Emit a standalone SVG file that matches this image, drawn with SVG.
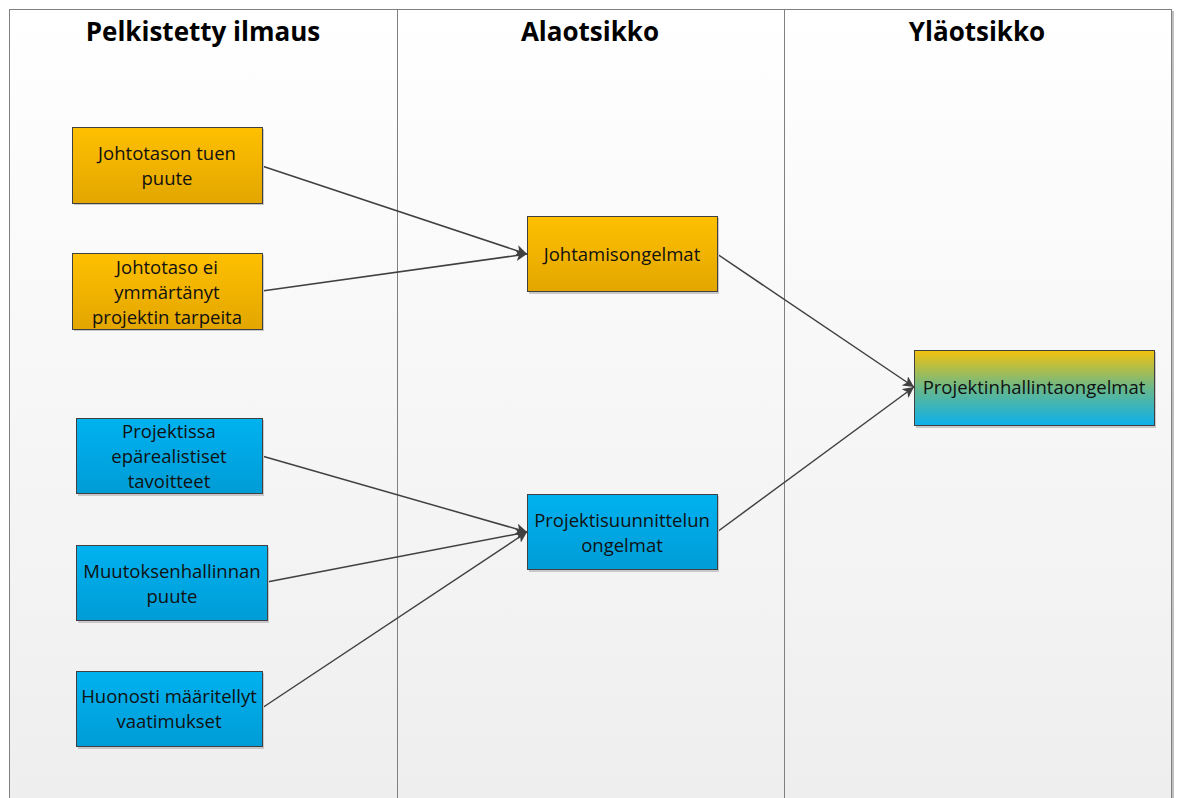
<svg xmlns="http://www.w3.org/2000/svg" width="1178" height="798" viewBox="0 0 1178 798">
<defs>
<linearGradient id="bg" x1="0" y1="0" x2="0" y2="1"><stop offset="0" stop-color="#ffffff"/><stop offset="1" stop-color="#eeeeee"/></linearGradient>
<linearGradient id="org" x1="0" y1="0" x2="0" y2="1"><stop offset="0" stop-color="#ffc000"/><stop offset="1" stop-color="#e2a600"/></linearGradient>
<linearGradient id="blu" x1="0" y1="0" x2="0" y2="1"><stop offset="0" stop-color="#00b2f0"/><stop offset="1" stop-color="#009cd6"/></linearGradient>
<linearGradient id="mix" x1="0" y1="0" x2="0" y2="1"><stop offset="0" stop-color="#f2c20c"/><stop offset="0.5" stop-color="#6ab88a"/><stop offset="1" stop-color="#0cb0ec"/></linearGradient>
<marker id="arr" viewBox="0 0 10 10" refX="10" refY="5" markerWidth="11" markerHeight="11" markerUnits="userSpaceOnUse" orient="auto"><path d="M0,0 L10,5 L0,10 L2.5,5 Z" fill="#404040"/></marker>
<style>
.title{font-family:"Open Sans","Liberation Sans",sans-serif;font-weight:bold;font-size:26px;fill:#000;text-anchor:middle}
.lbl{font-family:"Open Sans","Liberation Sans",sans-serif;font-size:18.5px;fill:#111;text-anchor:middle}
.box{stroke:#404040;stroke-width:1}
.sh{fill:#c8c8c8}
.con{stroke:#404040;stroke-width:1.5;fill:none;marker-end:url(#arr)}
</style>
</defs>
<rect x="0" y="0" width="1178" height="798" fill="#ffffff"/>
<g id="frame">
<rect x="9.5" y="9.5" width="1162" height="800" fill="url(#bg)" stroke="#808080" stroke-width="1"/>
<line x1="1173" y1="11" x2="1173" y2="798" stroke="#c0c0c0" stroke-width="2"/>
<line x1="397.5" y1="9.5" x2="397.5" y2="798" stroke="#808080" stroke-width="1"/>
<line x1="784.5" y1="9.5" x2="784.5" y2="798" stroke="#808080" stroke-width="1"/>
<text class="title" x="203" y="41">Pelkistetty ilmaus</text>
<text class="title" x="590" y="41">Alaotsikko</text>
<text class="title" x="977" y="41">Yläotsikko</text>
</g>
<g id="connectors">
<line class="con" x1="262" y1="166" x2="527" y2="254"/>
<line class="con" x1="262" y1="291" x2="527" y2="254"/>
<line class="con" x1="717" y1="254" x2="914" y2="387"/>
<line class="con" x1="262" y1="456" x2="527" y2="532"/>
<line class="con" x1="267" y1="582" x2="527" y2="532"/>
<line class="con" x1="262" y1="708" x2="527" y2="532"/>
<line class="con" x1="717" y1="532" x2="914" y2="387"/>
</g>
<g id="n1"><rect class="sh" x="74" y="129" width="190" height="76"/><rect class="box" x="72.5" y="127.5" width="190" height="76" fill="url(#org)"/><text class="lbl" x="167" y="160">Johtotason tuen</text><text class="lbl" x="167" y="185">puute</text></g>
<g id="n2"><rect class="sh" x="74" y="255" width="190" height="76"/><rect class="box" x="72.5" y="253.5" width="190" height="76" fill="url(#org)"/><text class="lbl" x="167" y="274">Johtotaso ei</text><text class="lbl" x="167" y="299">ymmärtänyt</text><text class="lbl" x="167" y="324">projektin tarpeita</text></g>
<g id="n3"><rect class="sh" x="529" y="218" width="190" height="76"/><rect class="box" x="527.5" y="216.5" width="190" height="75" fill="url(#org)"/><text class="lbl" x="622" y="261">Johtamisongelmat</text></g>
<g id="n4"><rect class="sh" x="916" y="352" width="240" height="76"/><rect class="box" x="914.5" y="350.5" width="240" height="75" fill="url(#mix)"/><text class="lbl" x="1034" y="394">Projektinhallintaongelmat</text></g>
<g id="n5"><rect class="sh" x="78" y="420" width="186" height="76"/><rect class="box" x="76.5" y="418.5" width="186" height="75" fill="url(#blu)"/><text class="lbl" x="169" y="438">Projektissa</text><text class="lbl" x="169" y="463">epärealistiset</text><text class="lbl" x="169" y="488">tavoitteet</text></g>
<g id="n6"><rect class="sh" x="78" y="547" width="191" height="76"/><rect class="box" x="76.5" y="545.5" width="191" height="75" fill="url(#blu)"/><text class="lbl" x="172" y="578">Muutoksenhallinnan</text><text class="lbl" x="172" y="603">puute</text></g>
<g id="n7"><rect class="sh" x="78" y="673" width="186" height="76"/><rect class="box" x="76.5" y="671.5" width="186" height="75" fill="url(#blu)"/><text class="lbl" x="169" y="703">Huonosti määritellyt</text><text class="lbl" x="169" y="728">vaatimukset</text></g>
<g id="n8"><rect class="sh" x="529" y="496" width="190" height="76"/><rect class="box" x="527.5" y="494.5" width="190" height="75" fill="url(#blu)"/><text class="lbl" x="622" y="527">Projektisuunnittelun</text><text class="lbl" x="622" y="552">ongelmat</text></g>
</svg>
